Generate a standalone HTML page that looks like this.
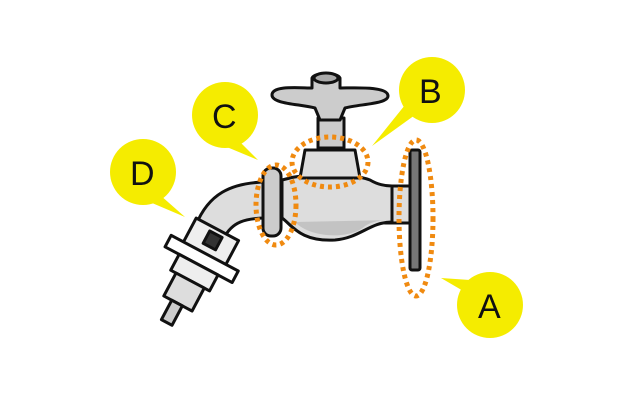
<!DOCTYPE html>
<html><head><meta charset="utf-8"><style>
html,body{margin:0;padding:0;background:#fff;}
svg{display:block}
text{font-family:"Liberation Sans",sans-serif;font-size:34px;fill:#111;}
</style></head><body>
<svg width="640" height="400" viewBox="0 0 640 400">
<!-- callouts -->
<g fill="#f5ec00">
<circle cx="143" cy="172" r="33"/><polygon points="160,195 185,217 145,200"/>
<circle cx="225" cy="115" r="33"/><polygon points="238,140 258,160 222,145"/>
<circle cx="432" cy="90" r="33"/><polygon points="415,115 372,146 405,105"/>
<circle cx="490" cy="305" r="33"/><polygon points="470,280 441,278 465,292"/>
</g>
<text x="130" y="185">D</text>
<text x="212" y="128">C</text>
<text x="419" y="103">B</text>
<text x="478" y="318">A</text>
<g stroke="#111" stroke-width="3" stroke-linejoin="round">
<!-- wall pipe -->
<rect x="385" y="186" width="28" height="37" fill="#ddd"/>
<rect x="410" y="150" width="10" height="120" fill="#777" rx="2"/>
<!-- spout -->
<path d="M268 182 C230 182 208 195 196 225 L184 250 L214 262 L224 238 C232 222 245 218 268 218 Z" fill="#ddd"/>
<!-- body -->
<path d="M290 178 C300 175 350 172 370 180 C380 186 390 186 392 186 L392 222 C370 222 360 238 335 240 C300 242 292 225 282 218 L282 180 Z" fill="#ddd"/>
<path d="M295 222 C310 238 350 240 365 226 C375 220 385 220 392 220" stroke="none" fill="#aaa" opacity="0.5"/>
<!-- stem -->
<rect x="318" y="118" width="26" height="30" fill="#ccc"/>
<!-- nut -->
<path d="M305 150 L355 150 L360 178 L300 178 Z" fill="#ddd"/>
<!-- handle -->
<path d="M272 95 C272 85 300 88 312 88 L312 78 C315 72 338 72 340 78 L340 88 C355 88 388 86 388 96 C388 104 360 104 345 108 L340 120 L320 120 L315 108 C300 104 272 104 272 95 Z" fill="#ccc"/>
<ellipse cx="326" cy="78" rx="12" ry="5" fill="#aaa"/>
<!-- ring C -->
<rect x="263" y="168" width="18" height="68" rx="8" fill="#ccc"/>
<!-- fitting D -->
<g transform="rotate(28 200 262)">
<rect x="176" y="225" width="48" height="30" fill="#eee"/>
<rect x="162" y="252" width="76" height="13" fill="#fff"/>
<rect x="178" y="265" width="44" height="18" fill="#eee"/>
<rect x="184" y="283" width="32" height="26" fill="#ddd"/>
<rect x="193" y="309" width="12" height="22" fill="#ccc"/>
<rect x="194" y="230" width="14" height="14" fill="#333"/>
</g>
</g>
<!-- orange dotted -->
<g fill="none" stroke="#f08a10" stroke-width="5" stroke-dasharray="4 4">
<ellipse cx="416" cy="218" rx="17" ry="78"/>
<ellipse cx="330" cy="162" rx="38" ry="25"/>
<ellipse cx="276" cy="205" rx="20" ry="40"/>
</g>
</svg>
</body></html>
